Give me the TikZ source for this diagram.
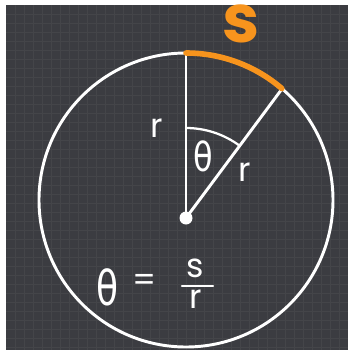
\documentclass[tikz,border=0pt]{standalone}
\usepackage{fontspec}
\usepackage{graphicx}
\usetikzlibrary{calc}
\setmainfont{Poppins}
\newfontfamily\grk{DejaVu Sans}
\definecolor{board}{HTML}{3B3C41}
\definecolor{gridc}{HTML}{444549}
\definecolor{chalkor}{HTML}{F7941D}
\tikzset{
  chalk/.style={draw=white, line width=2.2pt, line cap=round},
  thinchalk/.style={draw=white, line width=1.7pt, line cap=round},
  orangechalk/.style={draw=chalkor, line width=4.2pt, line cap=round},
  lbl/.style={text=white, inner sep=0pt, font=\fontsize{25}{25}\selectfont},
  thetalbl/.style={text=white, inner sep=0pt},
}
\begin{document}
\begin{tikzpicture}[x=0.75pt,y=-0.75pt]
\useasboundingbox (0,0) rectangle (351,358);
\fill[white] (0,0) rectangle (351,358);
\fill[board] (6,5) rectangle (348,350);
\foreach \g in {9,18,...,340} {
  \draw[gridc, line width=0.3pt] (6+\g,5) -- (6+\g,350);
}
\foreach \g in {9,18,...,344} {
  \draw[gridc, line width=0.3pt] (6,5+\g) -- (348,5+\g);
}
% circle
\coordinate (C) at (186,200);
\draw[chalk] (C) circle[radius=147];
% points
\coordinate (O) at (186,218);
\coordinate (A) at (186,53);
\coordinate (B) at (282.2,88.6);
\draw[chalk] (O) -- (A);
\draw[chalk] (O) -- (B);
\fill[white] (O) circle[radius=6.5];
% angle arc
\draw[thinchalk] ($(O)+(0,-90)$) arc[start angle=-90, end angle=-53.3, radius=90];
% orange arc
\draw[orangechalk] (A) arc[start angle=-90, end angle=-49.3, radius=147];
% labels
\node[text=chalkor, inner sep=0pt, font=\bfseries\fontsize{50}{50}\selectfont] (s) at (241,24) {s};
\node[lbl] (r1) at (157,128) {r};
\node[lbl] (r2) at (245,172) {r};
\node[thetalbl, font=\grk\fontsize{30}{30}\selectfont] (th) at (203,156) {\scalebox{0.8}[1]{θ}};
% formula
\node[thetalbl, font=\grk\fontsize{36}{36}\selectfont] (th2) at (108,287) {\scalebox{0.75}[1]{θ}};
\node[lbl] (eq) at (145,283) {=};
\node[lbl] (fs) at (195,268) {s};
\node[lbl] (fr) at (196,299) {r};
\coordinate (b1) at (182,286);
\coordinate (b2) at (213,286);
\draw[thinchalk] (b1) -- (b2);
\end{tikzpicture}
\end{document}
